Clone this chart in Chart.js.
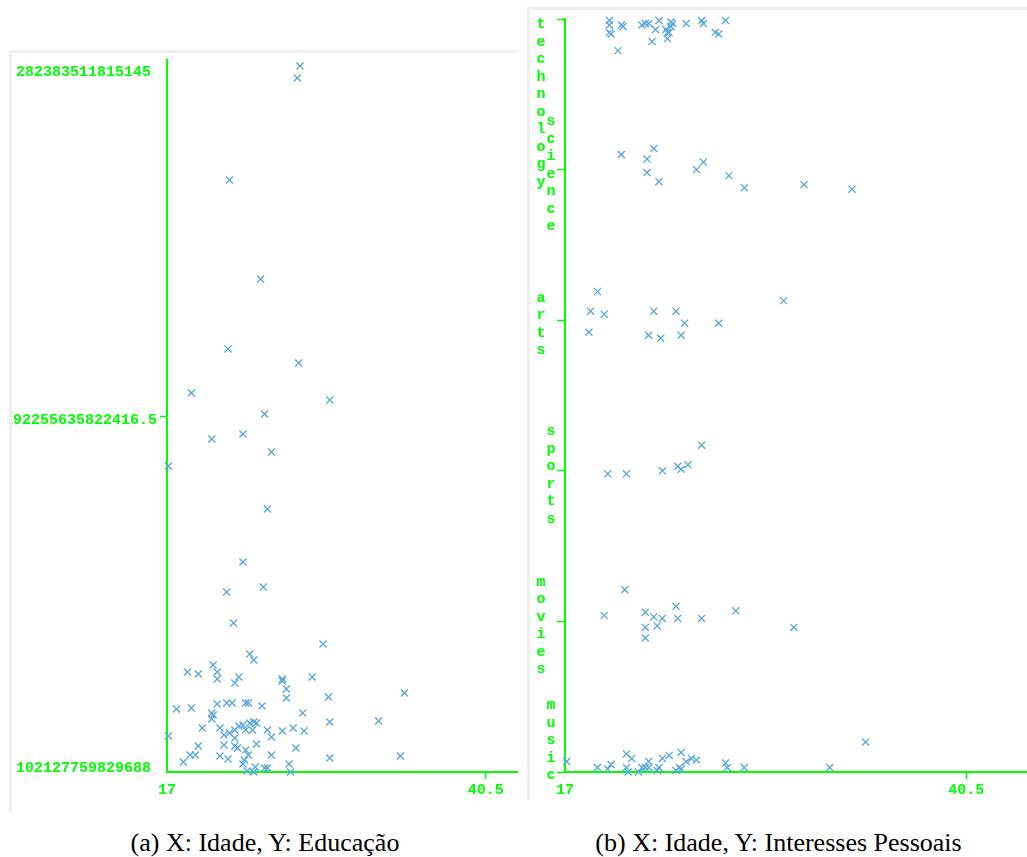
<!DOCTYPE html>
<html>
<head>
<meta charset="utf-8">
<script src="https://cdn.jsdelivr.net/npm/chart.js@4.4.1/dist/chart.umd.min.js"></script>
<style>
  body { margin: 0; background: #fff; width: 1027px; height: 857px; position: relative; overflow: hidden; }
  .painel { position: absolute; overflow: hidden; background: #fff; border-top: 3px solid #efefef; border-left: 3px solid #efefef; }
  #painelA { left: 9px; top: 50px; width: 506px; height: 759px; }
  #painelB { left: 527px; top: 7px; width: 497px; height: 790px; }
  .painel canvas { position: absolute; left: 0; top: 0; }
  .legenda { position: absolute; top: 828px; line-height: 30px; font-family: "Liberation Serif", "Times New Roman", serif; font-size: 26px; text-align: center; color: #000; }
</style>
</head>
<body>
<div class="painel" id="painelA"><canvas id="graficaEducacao" width="799" height="759"></canvas></div>
<div class="painel" id="painelB"><canvas id="graficaInteresses" width="844" height="790"></canvas></div>
<div class="legenda" style="left:0;width:530px">(a) X: Idade, Y: Educação</div>
<div class="legenda" style="left:530px;width:497px">(b) X: Idade, Y: Interesses Pessoais</div>
<script>
// ticks do eixo X (min, meio, max)
const ticksIdade = [17, 40.5, 64];
// ticks do eixo Y de Educação (min, meio, max)
const ticksEducacao = [102127759829688, 192255635822416.5, 282383511815145];
// categorias de interesse (de baixo para cima)
const categorias = ['music', 'movies', 'sports', 'arts', 'science', 'technology'];

// (a) Idade x Educação
const idadeA = [26.8, 26.6, 21.6, 23.9, 21.5, 26.7, 18.8, 29.0, 24.2, 20.3, 22.6, 24.7, 17.1, 24.4, 22.6, 24.1, 21.4, 21.9, 28.5,
  18.5, 19.3, 20.4, 20.7, 20.7, 22.0, 22.3, 23.1, 23.4, 25.5, 25.5, 27.7, 25.8, 25.8, 28.9, 34.5,
  17.7, 18.8, 20.3, 20.4, 20.3, 20.7, 21.4, 21.8, 22.8, 23.0, 24.0, 27.0, 29.0, 32.6,
  19.6, 20.9, 21.2, 21.6, 22.0, 22.3, 22.6, 23.1, 23.4, 23.6, 22.8, 23.3, 24.4, 24.7, 25.5, 26.3, 27.1, 17.1, 22.0,
  19.3, 21.2, 22.0, 22.2, 23.6, 26.5, 22.8, 23.0, 18.7, 19.1, 18.2, 20.9, 21.5, 24.7, 29.0, 34.2,
  22.6, 22.7, 22.9, 23.5, 23.4, 24.2, 24.4, 26.0, 26.1];
const educacao = [2.8087e14, 2.7783e14, 2.5201e14, 2.2694e14, 2.0922e14, 2.0568e14, 1.9808e14, 1.9631e14, 1.9276e14, 1.8644e14, 1.8770e14, 1.8314e14, 1.7960e14, 1.6871e14, 1.5530e14, 1.4897e14, 1.4770e14, 1.3985e14, 1.3454e14,
  1.2745e14, 1.2694e14, 1.2922e14, 1.2745e14, 1.2567e14, 1.2466e14, 1.2618e14, 1.3200e14, 1.3049e14, 1.2567e14, 1.2517e14, 1.2618e14, 1.2314e14, 1.2086e14, 1.2112e14, 1.2213e14,
  1.1808e14, 1.1833e14, 1.1707e14, 1.1656e14, 1.1555e14, 1.1935e14, 1.1960e14, 1.1960e14, 1.1960e14, 1.1960e14, 1.1884e14, 1.1707e14, 1.1479e14, 1.1504e14,
  1.1327e14, 1.1327e14, 1.1150e14, 1.1200e14, 1.1276e14, 1.1378e14, 1.1403e14, 1.1454e14, 1.1479e14, 1.1454e14, 1.1276e14, 1.1276e14, 1.1276e14, 1.1099e14, 1.1251e14, 1.1327e14, 1.1251e14, 1.1124e14, 1.1074e14,
  1.0871e14, 1.0897e14, 1.0871e14, 1.0821e14, 1.0922e14, 1.0821e14, 1.0770e14, 1.0643e14, 1.0643e14, 1.0643e14, 1.0466e14, 1.0618e14, 1.0542e14, 1.0643e14, 1.0567e14, 1.0618e14,
  1.0416e14, 1.0517e14, 1.0238e14, 1.0340e14, 1.0213e14, 1.0314e14, 1.0314e14, 1.0416e14, 1.0213e14];

// (b) Idade x Interesses (posição na categoria, com dispersão)
const idadeB = [
  // technology
  19.6, 19.6, 19.6, 19.7, 20.3, 20.4, 20.1, 21.5, 21.7, 21.9, 22.3, 22.5, 22.1, 22.9, 23.0, 23.2, 23.3, 23.1, 23.2, 23.0, 24.1, 25.0, 25.1, 25.8, 26.0, 26.4,
  // science
  20.3, 21.8, 22.2, 21.8, 22.5, 24.7, 25.1, 26.6, 27.5, 31.0, 33.8,
  // arts
  18.9, 18.5, 19.3, 18.4, 22.2, 23.5, 24.0, 21.9, 22.6, 23.8, 26.0, 29.8,
  // sports
  19.5, 20.6, 22.7, 23.6, 23.8, 24.2, 25.0,
  // movies
  20.5, 19.3, 21.7, 22.2, 22.7, 23.5, 23.6, 21.7, 22.4, 21.7, 25.0, 27.0, 30.4,
  // music
  17.1, 18.9, 19.5, 19.7, 20.6, 20.9, 20.6, 20.7, 21.3, 21.5, 21.7, 21.9, 21.9, 22.4, 22.5, 22.7, 23.1, 23.8, 23.5, 23.7, 23.8, 24.1, 24.4, 24.7, 26.4, 26.5, 27.5, 32.5, 34.6];
const nivelB = [
  4.99, 4.96, 4.91, 4.90, 4.96, 4.95, 4.79, 4.96, 4.97, 4.97, 4.93, 4.99, 4.85, 4.93, 4.91, 4.98, 4.97, 4.91, 4.95, 4.87, 4.97, 4.99, 4.97, 4.91, 4.90, 4.99,
  4.10, 4.07, 4.14, 3.98, 3.92, 4.00, 4.05, 3.96, 3.88, 3.90, 3.87,
  3.19, 3.06, 3.04, 2.92, 3.06, 3.06, 2.98, 2.90, 2.88, 2.90, 2.98, 3.13,
  1.98, 1.98, 2.00, 2.03, 2.01, 2.04, 2.17,
  1.21, 1.04, 1.06, 1.03, 1.02, 1.10, 1.02, 0.96, 0.97, 0.89, 1.02, 1.07, 0.96,
  0.07, 0.03, 0.02, 0.05, 0.12, 0.09, 0.03, 0.00, 0.00, 0.03, 0.03, 0.07, 0.03, 0.01, 0.03, 0.09, 0.11, 0.13, 0.01, 0.03, 0.02, 0.07, 0.09, 0.08, 0.06, 0.03, 0.03, 0.03, 0.20];

const VERDE = '#00ff00';
const AZUL = '#55a7dd';
const FONTE = 'bold 15px "Liberation Mono", "DejaVu Sans Mono", monospace';

// desenha os rótulos dos eixos
const rotulos = {
  id: 'rotulos',
  afterDraw(chart, args, opts) {
    const ctx = chart.ctx, area = chart.chartArea;
    const sx = chart.scales.x, sy = chart.scales.y;
    ctx.save();
    ctx.fillStyle = VERDE;
    ctx.font = FONTE;
    // eixo X
    ctx.textAlign = 'center';
    ctx.textBaseline = 'middle';
    sx.ticks.forEach(t => ctx.fillText(String(t.value), sx.getPixelForValue(t.value), area.bottom + 18));
    // eixo Y
    if (opts.vertical) {
      const passo = 17.5;
      ctx.textBaseline = 'alphabetic';
      sy.ticks.forEach(t => {
        const letras = categorias[t.value].split('');
        const n = letras.length;
        let c0 = sy.getPixelForValue(t.value) + 4 - (n - 1) / 2 * passo;
        if (c0 < area.top + 5) c0 = area.top + 5;
        if (c0 + (n - 1) * passo > area.bottom + 3) c0 = area.bottom + 3 - (n - 1) * passo;
        const x = area.left - (t.value % 2 === 0 ? 14 : 24);
        letras.forEach((l, i) => ctx.fillText(l, x, c0 + i * passo + 4));
      });
    } else {
      ctx.textAlign = 'right';
      sy.ticks.forEach((t, i) => {
        let cy = sy.getPixelForValue(t.value) + 4;
        cy = Math.min(Math.max(cy, area.top + 12), area.bottom - 4);
        const x = i === 1 ? area.left - 10 : area.left - 16;
        ctx.fillText(String(t.value), x, cy);
      });
    }
    ctx.restore();
  }
};

function eixo(extra) {
  return Object.assign({
    type: 'linear',
    border: { display: true, color: VERDE, width: 2 },
    ticks: { display: false },
    afterFit: s => { if (s.isHorizontal()) s.height = 0; else s.width = 0; }
  }, extra);
}

function serie(xs, ys) {
  return {
    data: xs.map((x, i) => ({ x: x, y: ys[i] })),
    pointStyle: 'crossRot',
    pointRadius: 5,
    borderWidth: 1.3,
    borderColor: AZUL,
    backgroundColor: AZUL,
    clip: false
  };
}

function crearGraficoEducacao() {
  const ctx = document.getElementById('graficaEducacao').getContext('2d');
  return new Chart(ctx, {
    type: 'scatter',
    data: { datasets: [serie(idadeA, educacao)] },
    options: {
      responsive: false,
      animation: false,
      events: [],
      layout: { padding: { left: 155, top: 7, right: 0, bottom: 40 } },
      plugins: { legend: { display: false }, tooltip: { enabled: false }, rotulos: { vertical: false } },
      scales: {
        x: eixo({
          min: ticksIdade[0], max: ticksIdade[2],
          afterBuildTicks: a => { a.ticks = ticksIdade.map(v => ({ value: v })); },
          grid: { drawOnChartArea: false, drawTicks: true, tickLength: 7, tickWidth: 1.5,
            tickColor: c => c.index === 1 ? VERDE : 'rgba(0,0,0,0)' }
        }),
        y: eixo({
          min: ticksEducacao[0], max: ticksEducacao[2],
          afterBuildTicks: a => { a.ticks = ticksEducacao.map(v => ({ value: v })); },
          grid: { drawOnChartArea: false, drawTicks: true, tickLength: 7, tickWidth: 1.5,
            tickColor: c => c.index === 1 ? VERDE : 'rgba(0,0,0,0)' }
        })
      }
    },
    plugins: [rotulos]
  });
}

function crearGraficoInteresses() {
  const ctx = document.getElementById('graficaInteresses').getContext('2d');
  return new Chart(ctx, {
    type: 'scatter',
    data: { datasets: [serie(idadeB, nivelB)] },
    options: {
      responsive: false,
      animation: false,
      events: [],
      layout: { padding: { left: 35, top: 9, right: 0, bottom: 28 } },
      plugins: { legend: { display: false }, tooltip: { enabled: false }, rotulos: { vertical: true } },
      scales: {
        x: eixo({
          min: ticksIdade[0], max: ticksIdade[2],
          afterBuildTicks: a => { a.ticks = ticksIdade.map(v => ({ value: v })); },
          grid: { drawOnChartArea: false, drawTicks: true, tickLength: 7, tickWidth: 1.5,
            tickColor: c => c.index === 1 ? VERDE : 'rgba(0,0,0,0)' }
        }),
        y: eixo({
          min: 0, max: categorias.length - 1,
          afterBuildTicks: a => { a.ticks = categorias.map((c, i) => ({ value: i })); },
          grid: { drawOnChartArea: false, drawTicks: true, tickLength: 8, tickWidth: 1.5, tickColor: VERDE }
        })
      }
    },
    plugins: [rotulos]
  });
}

crearGraficoEducacao();
crearGraficoInteresses();
</script>
</body>
</html>
